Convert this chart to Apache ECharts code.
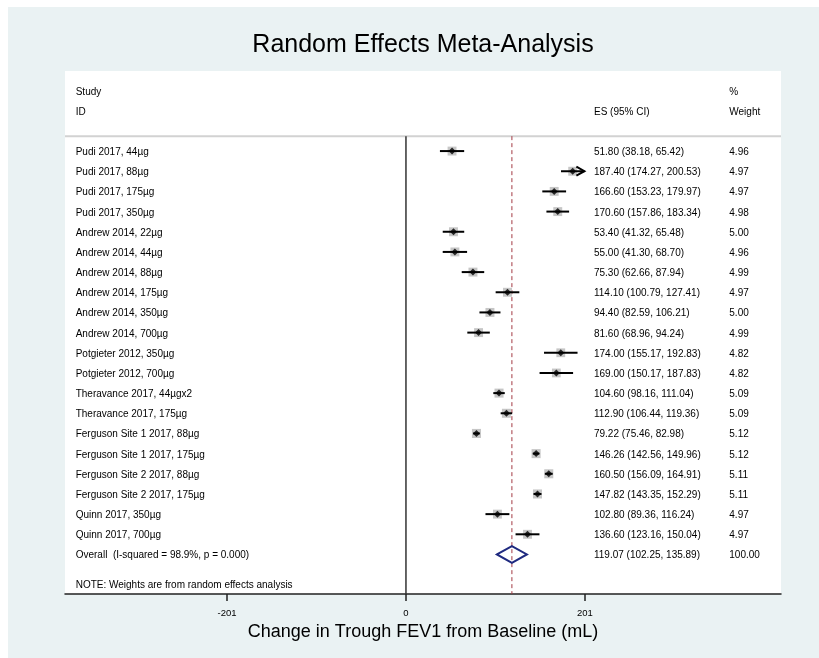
<!DOCTYPE html>
<html><head><meta charset="utf-8">
<script src="https://cdn.jsdelivr.net/npm/echarts@6/dist/echarts.min.js"></script>
<style>html,body{margin:0;padding:0;background:#fff;overflow:hidden;} #c{position:absolute;left:8px;top:7px;width:811px;height:651px;}</style>
</head><body><div id="c"></div>
<script>
// ---------- data ----------
const studies = [
  'Pudi 2017, 44µg', 'Pudi 2017, 88µg', 'Pudi 2017, 175µg', 'Pudi 2017, 350µg',
  'Andrew 2014, 22µg', 'Andrew 2014, 44µg', 'Andrew 2014, 88µg', 'Andrew 2014, 175µg',
  'Andrew 2014, 350µg', 'Andrew 2014, 700µg', 'Potgieter 2012, 350µg', 'Potgieter 2012, 700µg',
  'Theravance 2017, 44µgx2', 'Theravance 2017, 175µg', 'Ferguson Site 1 2017, 88µg',
  'Ferguson Site 1 2017, 175µg', 'Ferguson Site 2 2017, 88µg', 'Ferguson Site 2 2017, 175µg',
  'Quinn 2017, 350µg', 'Quinn 2017, 700µg'
];
const es = [51.80, 187.40, 166.60, 170.60, 53.40, 55.00, 75.30, 114.10, 94.40, 81.60,
  174.00, 169.00, 104.60, 112.90, 79.22, 146.26, 160.50, 147.82, 102.80, 136.60];
const ciLow = [38.18, 174.27, 153.23, 157.86, 41.32, 41.30, 62.66, 100.79, 82.59, 68.96,
  155.17, 150.17, 98.16, 106.44, 75.46, 142.56, 156.09, 143.35, 89.36, 123.16];
const ciHigh = [65.42, 200.53, 179.97, 183.34, 65.48, 68.70, 87.94, 127.41, 106.21, 94.24,
  192.83, 187.83, 111.04, 119.36, 82.98, 149.96, 164.91, 152.29, 116.24, 150.04];
const weights = [4.96, 4.97, 4.97, 4.98, 5.00, 4.96, 4.99, 4.97, 5.00, 4.99,
  4.82, 4.82, 5.09, 5.09, 5.12, 5.12, 5.11, 5.11, 4.97, 4.97];
const overallLabel = 'Overall  (I-squared = 98.9%, p = 0.000)';
const overallES = 119.07;
const overallLow = 102.25;
const overallHigh = 135.89;
const overallWeight = 100.00;
const xTickValues = [-201, 0, 201];
const headStudy = ['Study', 'ID'];
const headES = 'ES (95% CI)';
const headWeight = ['%', 'Weight'];
const noteText = 'NOTE: Weights are from random effects analysis';
const titleText = 'Random Effects Meta-Analysis';
const xAxisTitle = 'Change in Trough FEV1 from Baseline (mL)';

// ---------- layout ----------
const FONT = "'Liberation Sans', Arial, Helvetica, sans-serif";
const X_MIN = -383.2, X_MAX = 421.5, Y_MIN = -3.97, Y_MAX = 21.96;
const COL_STUDY = -371.2, COL_ES = 211.3, COL_WT = 363.4;
const ROW_SEP = -0.74, ROW_OVERALL = studies.length, ROW_NOTE = 21.45;
const TEXT_DY = 0.06;
const ciClip = 200;

const textItems = [];
function addText(x, row, text) { textItems.push({ x: x, row: row + TEXT_DY, text: text }); }
addText(COL_STUDY, -3, headStudy[0]);
addText(COL_STUDY, -2, headStudy[1]);
addText(COL_ES, -2, headES);
addText(COL_WT, -3, headWeight[0]);
addText(COL_WT, -2, headWeight[1]);
const fmt = v => v.toFixed(2);
studies.forEach((s, i) => {
  addText(COL_STUDY, i, s);
  addText(COL_ES, i, fmt(es[i]) + ' (' + fmt(ciLow[i]) + ', ' + fmt(ciHigh[i]) + ')');
  addText(COL_WT, i, fmt(weights[i]));
});
addText(COL_STUDY, ROW_OVERALL, overallLabel);
addText(COL_ES, ROW_OVERALL, fmt(overallES) + ' (' + fmt(overallLow) + ', ' + fmt(overallHigh) + ')');
addText(COL_WT, ROW_OVERALL, fmt(overallWeight));
addText(COL_STUDY, ROW_NOTE, noteText);

const rows = studies.map((s, i) => i);

const chart = echarts.init(document.getElementById('c'), null, { renderer: 'canvas' });
chart.setOption({
  backgroundColor: '#eaf2f3',
  animation: false,
  title: {
    text: titleText, left: 410, textAlign: 'center', top: 21,
    textStyle: { fontFamily: FONT, fontSize: 25, fontWeight: 'normal', color: '#000' }
  },
  grid: { left: 57, right: 38, top: 64, bottom: 64, show: true, backgroundColor: '#fff', borderWidth: 0 },
  xAxis: {
    type: 'value', min: X_MIN, max: X_MAX, position: 'bottom',
    axisLine: { show: true, onZero: false, lineStyle: { color: '#222', width: 1.5 } },
    axisTick: { show: true, customValues: xTickValues, length: 7, inside: false, lineStyle: { color: '#222', width: 1.5 } },
    axisLabel: { show: true, customValues: xTickValues, fontSize: 9.5, margin: 14, color: '#000', fontFamily: FONT },
    splitLine: { show: false },
    name: xAxisTitle, nameLocation: 'middle', nameGap: 24,
    nameTextStyle: { fontSize: 18, color: '#000', fontFamily: FONT }
  },
  yAxis: { type: 'value', inverse: true, min: Y_MIN, max: Y_MAX, show: false, splitLine: { show: false } },
  series: [
    { // header separator
      type: 'custom', z: 1, silent: true,
      data: [[X_MIN, X_MAX, ROW_SEP]],
      renderItem(params, api) {
        const a = api.coord([api.value(0), api.value(2)]), b = api.coord([api.value(1), api.value(2)]);
        return { type: 'line', shape: { x1: a[0], y1: a[1], x2: b[0], y2: b[1] }, style: { stroke: '#d2d2d2', lineWidth: 2 } };
      }
    },
    { // zero line
      type: 'custom', z: 2, silent: true,
      data: [[0, ROW_SEP, Y_MAX]],
      renderItem(params, api) {
        const a = api.coord([api.value(0), api.value(1)]), b = api.coord([api.value(0), api.value(2)]);
        return { type: 'line', shape: { x1: a[0], y1: a[1], x2: b[0], y2: b[1] }, style: { stroke: '#333', lineWidth: 1.5 } };
      }
    },
    { // overall effect dashed line
      type: 'custom', z: 2, silent: true,
      data: [[overallES, ROW_SEP, Y_MAX]],
      renderItem(params, api) {
        const a = api.coord([api.value(0), api.value(1)]), b = api.coord([api.value(0), api.value(2)]);
        return { type: 'line', shape: { x1: a[0], y1: a[1], x2: b[0], y2: b[1] }, style: { stroke: '#a33a44', lineWidth: 1, lineDash: [4, 3] } };
      }
    },
    { // weight boxes
      type: 'scatter', z: 3, silent: true,
      symbol: 'rect',
      data: es.map((v, i) => ({ value: [v, rows[i]], symbolSize: Math.sqrt(weights[i]) * 4 })),
      itemStyle: { color: '#b8b8b8' }
    },
    { // CI lines
      type: 'custom', z: 4, silent: true,
      data: es.map((v, i) => [ciLow[i], ciHigh[i], rows[i]]),
      renderItem(params, api) {
        const lo = api.value(0), hi = api.value(1), r = api.value(2);
        const a = api.coord([lo, r]), b = api.coord([hi, r]);
        const ch = [{ type: 'line', shape: { x1: a[0], y1: a[1], x2: b[0], y2: b[1] }, style: { stroke: '#000', lineWidth: 2 } }];
        if (hi > ciClip) {
          ch.push({ type: 'polyline', shape: { points: [[b[0] - 8, b[1] - 4.5], [b[0], b[1]], [b[0] - 8, b[1] + 4.5]] },
            style: { stroke: '#000', fill: null, lineWidth: 2 } });
        }
        return { type: 'group', children: ch };
      }
    },
    { // point estimates
      type: 'scatter', z: 5, silent: true,
      symbol: 'diamond', symbolSize: [7, 7],
      data: es.map((v, i) => [v, rows[i]]),
      itemStyle: { color: '#000' }
    },
    { // overall diamond
      type: 'custom', z: 5, silent: true,
      data: [[overallLow, overallES, overallHigh, ROW_OVERALL]],
      renderItem(params, api) {
        const r = api.value(3);
        const l = api.coord([api.value(0), r]), m = api.coord([api.value(1), r]), h = api.coord([api.value(2), r]);
        const hh = 8.3;
        return { type: 'polygon', shape: { points: [[l[0], l[1]], [m[0], m[1] - hh], [h[0], h[1]], [m[0], m[1] + hh]] },
          style: { stroke: '#1f2a80', fill: null, lineWidth: 2 } };
      }
    },
    { // texts
      type: 'custom', z: 6, silent: true,
      data: textItems.map(t => [t.x, t.row]),
      renderItem(params, api) {
        const p = api.coord([api.value(0), api.value(1)]);
        return { type: 'text', x: p[0], y: p[1],
          style: { text: textItems[params.dataIndex].text, font: '10px ' + FONT, fill: '#000', align: 'left', verticalAlign: 'middle' } };
      }
    }
  ]
});
</script></body></html>
